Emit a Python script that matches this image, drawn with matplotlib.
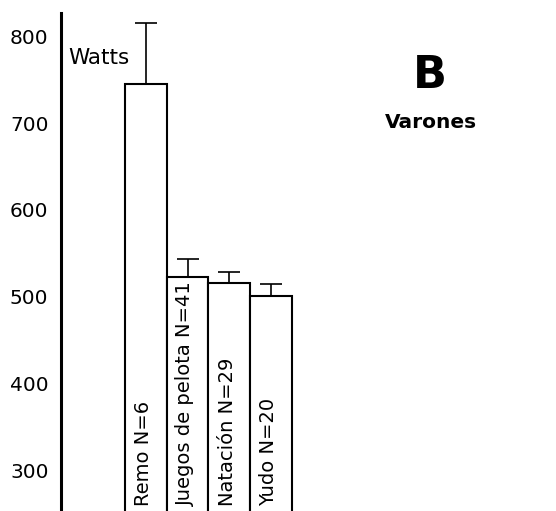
import numpy as np
import matplotlib.pyplot as plt

# Potencia (W) por deporte, varones
deportes = ['Remo N=6', 'Juegos de pelota N=41', 'Natación N=29', 'Yudo N=20']
watts = [745, 523, 516, 501]
err_sup = [70, 20, 13, 14]
yticks = [300, 400, 500, 600, 700, 800]

plt.rcParams['font.family'] = ['DejaVu Sans']

fig = plt.figure(figsize=(5.56, 5.11), dpi=100)
ax = fig.add_axes([0.1097, 0.0, 0.89, 0.9746])

x = np.arange(len(deportes))
ax.bar(x, watts, width=1.0, color='white', edgecolor='black', linewidth=1.5, zorder=2)
ax.errorbar(x, watts, yerr=[np.zeros(len(err_sup)), err_sup], fmt='none',
            ecolor='black', elinewidth=1.2, capsize=8, capthick=1.2, zorder=1)

# etiquetas verticales dentro de las barras
for xi, nombre in zip(x, deportes):
    ax.text(xi - 0.05, 259, nombre, rotation=90, ha='center', va='bottom',
            fontsize=14, color='black', zorder=3)

ax.set_xlim(-2.03, 9.82)
ax.set_ylim(253, 827)
ax.set_yticks(yticks)
ax.set_yticklabels([str(v) for v in yticks], fontsize=14.5)
ax.tick_params(axis='y', length=0, pad=9)
ax.set_xticks([])

for s in ['top', 'right', 'bottom']:
    ax.spines[s].set_visible(False)
ax.spines['left'].set_linewidth(2.2)

ax.text(-1.86, 775, 'Watts', fontsize=15.5, va='center', ha='left')
fig.text(430 / 556, 1 - 76 / 511, 'B', fontsize=32, fontweight='bold', ha='center', va='center')
fig.text(431 / 556, 1 - 122 / 511, 'Varones', fontsize=14.5, fontweight='bold', ha='center', va='center')

fig.savefig('out.png', dpi=100)
